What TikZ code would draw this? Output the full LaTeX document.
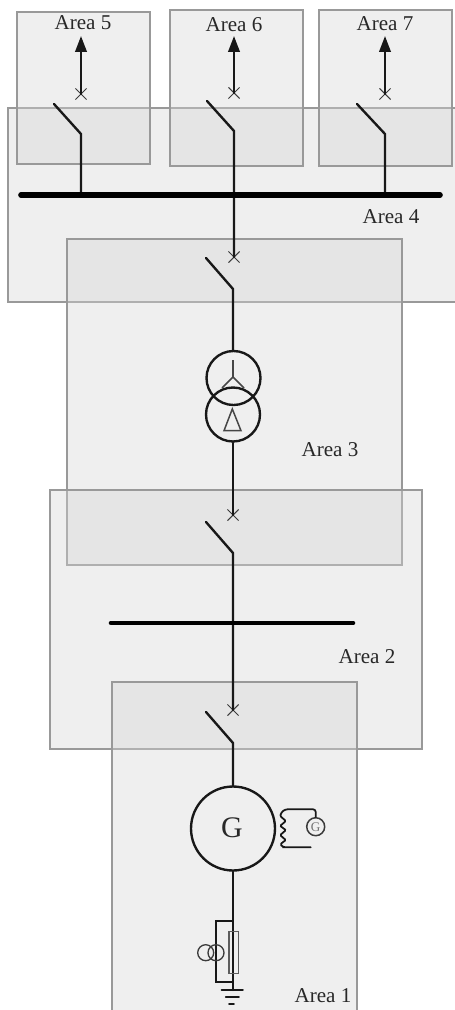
\documentclass[tikz,border=0pt]{standalone}
\usepackage{fontspec}
\setmainfont{Liberation Serif}
\usetikzlibrary{arrows.meta,shapes.misc}
\definecolor{inkc}{HTML}{181818}
\definecolor{textc}{HTML}{282828}
\definecolor{edgec}{HTML}{999999}
\definecolor{areac}{gray}{0.835}
\tikzset{
  x=0.02cm,y=-0.02cm,
  areabox/.style={draw=edgec,line width=0.95pt,fill=areac,fill opacity=0.38},
  arealabel/.style={inner sep=0,text=textc,font=\fontsize{12}{14}\selectfont},
  wire/.style={draw=inkc,line width=1.35pt,line cap=round,line join=miter},
  thinwire/.style={draw=inkc!80,line width=0.85pt},
  busbar/.style={draw=black,line cap=round},
  crossmark/.style={cross out,draw=inkc!85,line width=0.6pt,inner sep=0,minimum size=0.2cm},
  ring/.style={circle,draw=inkc,line width=1.35pt,inner sep=0},
  outarrow/.style={wire,-{Triangle[length=3.2mm,width=2.3mm]}},
}
\begin{document}
\begin{tikzpicture}
\useasboundingbox (0,0) rectangle (455,1010);
\fill[white] (0,0) rectangle (455,1010);
\clip (0,0) rectangle (455,1010);

% shaded areas
\path[areabox] (8,108) rectangle (470,302);
\path[areabox] (17,12) rectangle (150,164);
\path[areabox] (170,10) rectangle (303,166);
\path[areabox] (319,10) rectangle (452,166);
\path[areabox] (67,239) rectangle (402,565);
\path[areabox] (50,490) rectangle (422,749);
\path[areabox] (112,682) rectangle (357,1030);

% labels
\node[arealabel] (a5) at (83,23) {Area 5};
\node[arealabel] (a6) at (234,25) {Area 6};
\node[arealabel] (a7) at (385,24) {Area 7};
\node[arealabel] (a4) at (391,217) {Area 4};
\node[arealabel] (a3) at (330,450) {Area 3};
\node[arealabel] (a2) at (367,657) {Area 2};
\node[arealabel] (a1) at (323,996) {Area 1};

% coordinates
\coordinate (tip5) at (81,36);
\coordinate (tip6) at (234,36);
\coordinate (tip7) at (385,36);
\node[crossmark] (x5) at (81,94) {};
\node[crossmark] (x6) at (234,93) {};
\node[crossmark] (x7) at (385,94) {};
\node[crossmark] (x4) at (234,257) {};
\node[crossmark] (x3) at (233,515) {};
\node[crossmark] (x2) at (233,710) {};

\coordinate (bl5) at (54,104);   \coordinate (bk5) at (81,134);
\coordinate (bl6) at (207,101);  \coordinate (bk6) at (234,131);
\coordinate (bl7) at (357,104);  \coordinate (bk7) at (385,134);
\coordinate (bl4) at (206,258);  \coordinate (bk4) at (233,289);
\coordinate (bl3) at (206,522);  \coordinate (bk3) at (233,553);
\coordinate (bl2) at (206,712);  \coordinate (bk2) at (233,743);

\coordinate (busAl) at (21,195);  \coordinate (busAr) at (440,195);
\coordinate (busB5) at (81,195);  \coordinate (busB6) at (234,195);
\coordinate (busB7) at (385,195);
\coordinate (busBl) at (111,623); \coordinate (busBr) at (353,623);

% equipment
\node[ring,minimum size=1.08cm] (tu) at (233.5,378) {};
\node[ring,minimum size=1.08cm] (tl) at (233,414.5) {};
\node[ring,minimum size=1.68cm] (gen) at (233,828.5) {};
\node[inner sep=0,text=textc,font=\fontsize{17}{18}\selectfont] (gl) at (232,828) {G};
\node[circle,draw=inkc!85,line width=0.85pt,inner sep=0,minimum size=0.36cm] (sg) at (315.7,826.7) {};
\node[inner sep=0,text=inkc!60,font=\fontsize{7.5}{8}\selectfont] (sgl) at (315.7,827) {G};

% arrows out
\draw[outarrow] (x5.center) -- (tip5);
\draw[outarrow] (x6.center) -- (tip6);
\draw[outarrow] (x7.center) -- (tip7);

% switches
\draw[wire] (bl5) -- (bk5) -- (busB5);
\draw[wire] (bl6) -- (bk6) -- (busB6) -- (x4.center);
\draw[wire] (bl7) -- (bk7) -- (busB7);
\draw[wire] (bl4) -- (bk4) -- (bk4 |- tu.north);
\draw[wire] (tl.south) -- (x3.center);
\draw[wire] (bl3) -- (bk3) -- (x2.center);
\draw[wire] (bl2) -- (bk2) -- (gen.north);

% busbars
\draw[busbar,line width=3.2pt] (busAl) -- (busAr);
\draw[busbar,line width=2.6pt] (busBl) -- (busBr);

% transformer windings
\coordinate (sc) at (233,377);
\draw[thinwire] (233,360) -- (sc);
\draw[thinwire] (222,388) -- (sc) -- (244,388);
\draw[thinwire,line join=miter] (232.3,409) -- (241,430.7) -- (224,430.7) -- cycle;

% exciter
\draw[wire,line width=1pt,rounded corners=1.5pt]
  (310.7,847.3) -- (285,847.3) -- (283,847.3)
  .. controls (279,843) and (287,841) .. (283,837.7)
  .. controls (279,834) and (287,831) .. (283,828)
  .. controls (279,825) and (287,822) .. (283,818.5)
  .. controls (279,815) and (283,811) .. (285,809.3)
  -- (315.7,809.3) -- (sg.north);

% lower neutral gear
\coordinate (gnd) at (233,990);
\draw[wire] (gen.south) -- (gnd);
\draw[wire] (232.5,921) -- (215.7,921) -- (215.7,981.7) -- (232.5,981.7);
\draw[draw=inkc!70,fill=none,line width=0.7pt] (229,931.3) rectangle (238.3,973.3);
\node[circle,draw=inkc!85,line width=0.75pt,inner sep=0,minimum size=0.32cm] (ct1) at (205.7,952.7) {};
\node[circle,draw=inkc!85,line width=0.75pt,inner sep=0,minimum size=0.32cm] (ct2) at (216,952.7) {};
\draw[wire] (221.7,990) -- (242.7,990);
\draw[wire,line width=1pt] (225.7,996.7) -- (239,996.7);
\draw[wire,line width=1pt] (229,1004.3) -- (234,1004.3);
\end{tikzpicture}
\end{document}
